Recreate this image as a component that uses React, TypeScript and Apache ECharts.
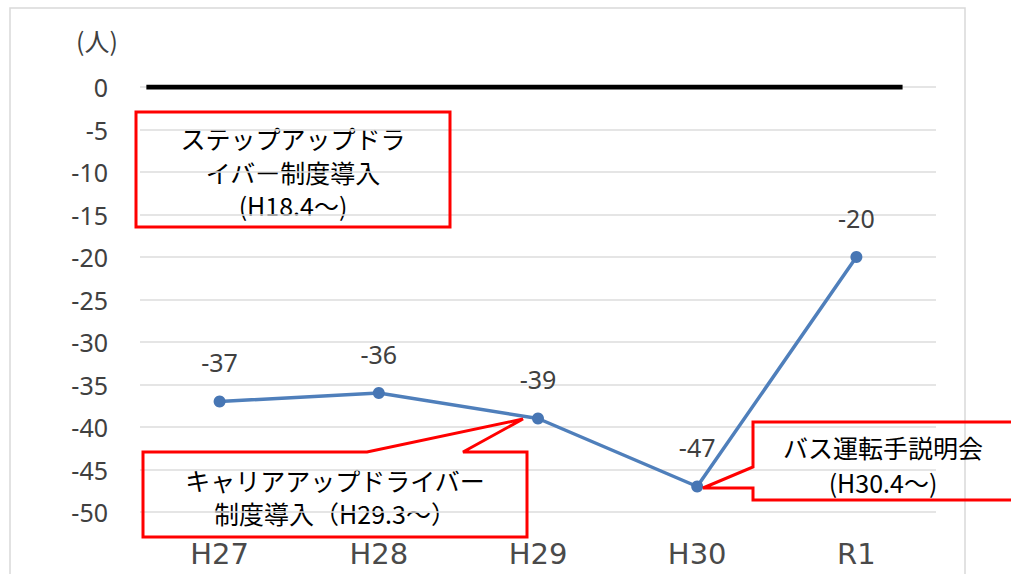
import React, { useEffect, useRef } from "react";
import * as echarts from "echarts";

const categories = ["H27", "H28", "H29", "H30", "R1"];
const values = [-37, -36, -39, -47, -20];
const yMin = -50;
const yMax = 0;
const yStep = 5;
const zeroLineX = [0.04, 4.79];
const unitLabel = "(人)";
const note1 = ["ステップアップドラ", "イバー制度導入", "(H18.4〜)"];
const note2 = ["キャリアアップドライバー", "制度導入（H29.3〜）"];
const note3 = ["バス運転手説明会", "(H30.4〜)"];

const JP = '"Noto Sans CJK JP", "Noto Sans", sans-serif';

export default function App() {
  const ref = useRef<HTMLDivElement>(null);
  useEffect(() => {
    if (!ref.current) return;
    const chart = echarts.init(ref.current, null, { renderer: "svg" });
    const textEl = (x: number, y: number, t: string) => ({
      type: "text",
      x,
      y,
      style: {
        text: t,
        font: `25px ${JP}`,
        fill: "#000",
        align: "center",
        verticalAlign: "middle",
        lineHeight: 28,
      },
    });
    chart.setOption({
      animation: false,
      backgroundColor: "#fff",
      grid: { left: 140, right: 75, top: 87, bottom: 62, containLabel: false },
      xAxis: [
        {
          type: "category",
          data: categories,
          boundaryGap: true,
          axisLine: { show: false },
          axisTick: { show: false },
          axisLabel: {
            margin: 27,
            fontSize: 29,
            fontFamily: '"DejaVu Sans", sans-serif',
            color: "#4a4a4a",
          },
        },
        {
          type: "value",
          min: 0,
          max: 5,
          show: false,
        },
      ],
      yAxis: {
        type: "value",
        min: yMin,
        max: yMax,
        interval: yStep,
        axisLine: { show: false },
        axisTick: { show: false },
        splitLine: { lineStyle: { color: "#dcdcdc", width: 1.5 } },
        axisLabel: {
          margin: 32,
          fontSize: 25,
          fontFamily: '"Noto Sans", sans-serif',
          color: "#404040",
        },
      },
      series: [
        {
          type: "line",
          xAxisIndex: 1,
          data: [
            [zeroLineX[0], 0],
            [zeroLineX[1], 0],
          ],
          symbol: "none",
          lineStyle: { color: "#000", width: 5 },
          silent: true,
          z: 1,
        },
        {
          type: "line",
          data: values,
          symbol: "circle",
          symbolSize: 12,
          itemStyle: { color: "#4776b4" },
          lineStyle: { color: "#4f7fbb", width: 3.5 },
          label: {
            show: true,
            position: "top",
            distance: 21,
            fontSize: 25,
            fontFamily: '"Noto Sans", sans-serif',
            color: "#404040",
          },
          z: 3,
        },
      ],
      graphic: [
        {
          type: "rect",
          shape: { x: 10, y: 8, width: 955, height: 590 },
          style: { fill: "none", stroke: "#d9d9d9", lineWidth: 1.5 },
          z: 0,
        },
        {
          type: "text",
          x: 97,
          y: 40,
          style: {
            text: unitLabel,
            font: `25px ${JP}`,
            fill: "#404040",
            align: "center",
            verticalAlign: "middle",
          },
        },
        {
          type: "rect",
          shape: { x: 136, y: 112, width: 314, height: 115 },
          style: { fill: "none", stroke: "#ff0000", lineWidth: 3 },
          z: 10,
        },
        textEl(293, 138, note1[0]),
        textEl(293, 172, note1[1]),
        textEl(293, 205, note1[2]),
        {
          type: "polygon",
          shape: {
            points: [
              [143, 452],
              [367, 452],
              [523, 419],
              [463, 452],
              [527, 452],
              [527, 537],
              [143, 537],
            ],
          },
          style: { fill: "none", stroke: "#ff0000", lineWidth: 3 },
          z: 10,
        },
        textEl(335, 480, note2[0]),
        textEl(335, 513, note2[1]),
        {
          type: "polygon",
          shape: {
            points: [
              [753, 422],
              [1020, 422],
              [1020, 500],
              [753, 500],
              [753, 488],
              [703, 488],
              [753, 467],
            ],
          },
          style: { fill: "none", stroke: "#ff0000", lineWidth: 3 },
          z: 10,
        },
        textEl(883, 447, note3[0]),
        textEl(883, 482, note3[1]),
      ],
    });
    return () => chart.dispose();
  }, []);
  return (
    <div
      ref={ref}
      style={{ position: "fixed", left: 0, top: 0, width: 1011, height: 574 }}
    />
  );
}
